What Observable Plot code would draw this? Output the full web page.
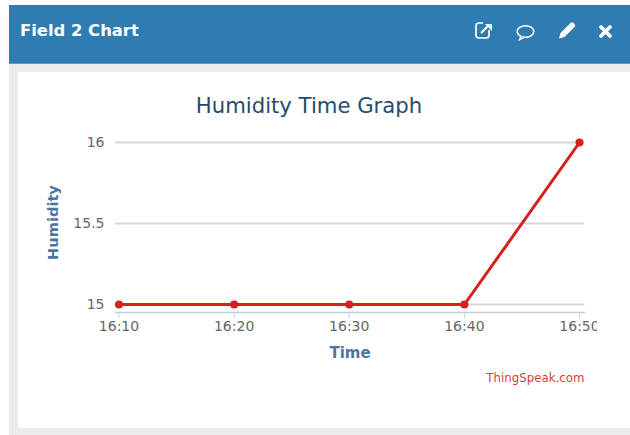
<!DOCTYPE html>
<html>
<head>
<meta charset="utf-8">
<script src="https://cdn.jsdelivr.net/npm/d3@7"></script>
<script src="https://cdn.jsdelivr.net/npm/@observablehq/plot@0.6"></script>
<style>
html,body{margin:0;padding:0;background:#fff;width:630px;height:435px;overflow:hidden}
#page{position:relative;width:630px;height:435px;font-family:"DejaVu Sans",sans-serif}
#panel{position:absolute;left:9px;top:5px;width:621px;height:430px;background:#ececec}
#head{position:absolute;left:9px;top:5px;width:621px;height:58px;background:#2e7cb1;border-bottom:1px solid #5b9cc6;box-sizing:content-box}
#headtitle{position:absolute;left:20px;top:20px;color:#fff;font-weight:bold;font-size:16.4px;line-height:22px}
#card{position:absolute;left:18px;top:72px;width:612px;height:356px;background:#fff}
#icons{position:absolute;left:0;top:0}
#chart{position:absolute;left:0;top:0}
#chart svg{display:block;background:transparent;overflow:hidden}
</style>
</head>
<body>
<div id="page">
  <div id="panel"></div>
  <div id="head"></div>
  <div id="headtitle">Field 2 Chart</div>
  <div id="card"></div>
  <svg id="icons" width="630" height="64" fill="none" stroke="#fff">
    <path d="M489 30v5a3 3 0 0 1-3 3h-7a3 3 0 0 1-3-3v-9a3 3 0 0 1 3-3h4" stroke-width="1.700"/>
    <path d="M481 33l8-8" stroke-width="2.200"/>
    <path d="M485 24h7v7z" fill="#fff" stroke-width="0"/>
    <ellipse cx="525.500" cy="31.500" rx="8.300" ry="5.800" stroke-width="1.600"/>
    <path d="M521 36.500l-1.500 3.200 5-2.500" fill="#2e7cb1" stroke-width="1.400"/>
    <path d="M559 38.500l1.500-5.500 10-10a2 2 0 0 1 3 0l1 1a2 2 0 0 1 0 3l-10 10z" fill="#fff" stroke-width="0"/>
    <path d="M601 27l9 9M610 27l-9 9" stroke-width="3.800" stroke-linecap="round"/>
  </svg>
  <div id="chart"></div>
</div>
<script>
const times = ["16:10", "16:20", "16:30", "16:40", "16:50"];
const humidity = [15, 15, 15, 15, 16];
const yTicks = [15, 15.5, 16];
const titleText = "Humidity Time Graph";
const xLabel = "Time";
const yLabel = "Humidity";
const credit = "ThingSpeak.com";

const toDate = (s) => {
  const [h, m] = s.split(":").map(Number);
  return new Date(Date.UTC(2020, 0, 1, h, m));
};
const rows = times.map((t, i) => ({time: toDate(t), value: humidity[i]}));
const xTicks = times.map(toDate);

const plot = Plot.plot({
  width: 597,
  height: 435,
  marginLeft: 115,
  marginRight: 13,
  marginTop: 132,
  marginBottom: 123,
  style: {background: "transparent", fontFamily: "'DejaVu Sans', sans-serif", overflow: "hidden"},
  x: {type: "utc", domain: [xTicks[0], xTicks[xTicks.length - 1]], range: [118.5, 579]},
  y: {domain: [15, 16], range: [304, 142]},
  marks: [
    Plot.ruleY(yTicks, {stroke: "#d8d8d8", strokeWidth: 2}),
    Plot.frame({anchor: "bottom", stroke: "#c0d0e0", strokeWidth: 1.5, strokeOpacity: 1}),
    Plot.axisX({
      ticks: xTicks, tickSize: 6, tickPadding: 3, stroke: "#c0d0e0", strokeOpacity: 1, tickFormat: d3.utcFormat("%H:%M"),
      label: null, fontSize: 14, color: "#666666", textStroke: "none"
    }),
    Plot.axisY({
      ticks: yTicks, tickSize: 0, tickPadding: 11, label: null, fontSize: 14, color: "#666666",
      tickFormat: (d) => String(d)
    }),
    Plot.line(rows, {x: "time", y: "value", stroke: "#d62020", strokeWidth: 3}),
    Plot.dot(rows, {x: "time", y: "value", r: 4, fill: "#d62020", stroke: "none"}),
    Plot.text([titleText], {frameAnchor: "top-left", dx: 193.500, dy: -35, text: (d) => d, textAnchor: "middle", fontSize: 21.2, fill: "#274b6d", lineAnchor: "top"}),
    Plot.text([xLabel], {frameAnchor: "bottom", dy: 45, text: (d) => d, fontSize: 15, fontWeight: "bold", fill: "#4d759e"}),
    Plot.text([yLabel], {frameAnchor: "left", dx: -62, rotate: -90, textAnchor: "middle", text: (d) => d, fontSize: 14.600, fontWeight: "bold", fill: "#4d759e"}),
    Plot.text([credit], {frameAnchor: "bottom-right", dy: 69, text: (d) => d, textAnchor: "end", fontSize: 11.800, fill: "#d62020", fillOpacity: 0.9})
  ]
});
document.getElementById("chart").appendChild(plot);
</script>
</body>
</html>
